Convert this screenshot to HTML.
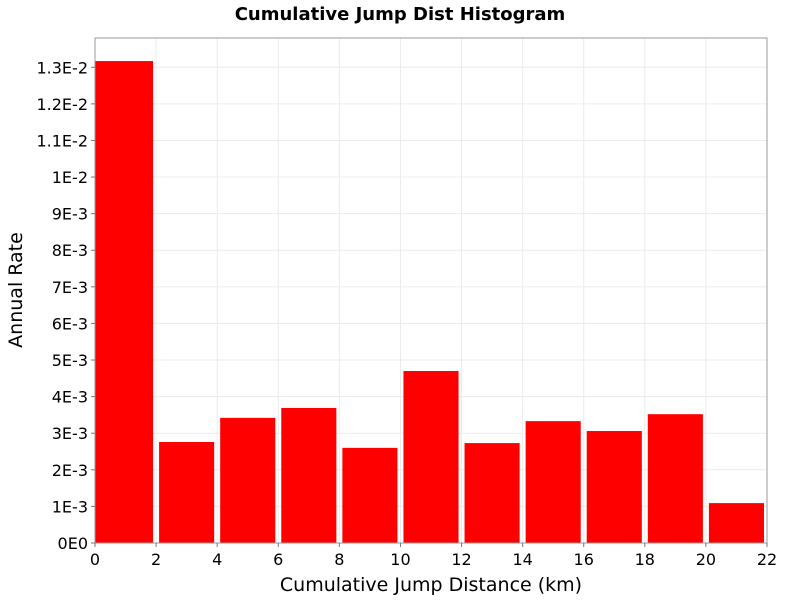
<!DOCTYPE html>
<html><head><meta charset="utf-8"><style>
body{margin:0;background:#fff;}
svg{display:block;font-family:"DejaVu Sans","Liberation Sans",sans-serif;}
</style></head><body>
<svg id="chart" width="800" height="600">
<text x="400" y="20" text-anchor="middle" font-size="18" font-weight="bold">Cumulative Jump Dist Histogram</text>
<rect x="95" y="38" width="672" height="505" fill="#fff"/>
<g id="grid"></g><g id="bars"></g>
<rect x="95" y="38" width="672" height="505" fill="none" stroke="#999"/>
<g id="axes"></g>
<text x="431" y="591" text-anchor="middle" font-size="19">Cumulative Jump Distance (km)</text>
<text transform="translate(22,290) rotate(-90)" text-anchor="middle" font-size="19">Annual Rate</text>
</svg>
<script>
const binStarts=[0,2,4,6,8,10,12,14,16,18,20];
const rates=[0.01317,0.00276,0.00342,0.00369,0.0026,0.0047,0.00273,0.00333,0.00306,0.00352,0.00109];
const xTicks=[0,2,4,6,8,10,12,14,16,18,20,22];
const yTicks=[0,0.001,0.002,0.003,0.004,0.005,0.006,0.007,0.008,0.009,0.01,0.011,0.012,0.013];
const yLabels=["0E0","1E-3","2E-3","3E-3","4E-3","5E-3","6E-3","7E-3","8E-3","9E-3","1E-2","1.1E-2","1.2E-2","1.3E-2"];
const binWidth=2;
const X0=95,X1=767,Y0=543,Y1=38,XMAX=22,YMAX=0.0138;
const xs=v=>X0+v/XMAX*(X1-X0), ys=v=>Y0-v/YMAX*(Y0-Y1);
const NS="http://www.w3.org/2000/svg";
function mk(t,a,p){const e=document.createElementNS(NS,t);for(const k in a)e.setAttribute(k,a[k]);p.appendChild(e);return e;}
const grid=document.getElementById('grid'),bars=document.getElementById('bars'),axes=document.getElementById('axes');
xTicks.forEach(t=>{
 const l=mk('line',{x1:xs(t),x2:xs(t),y1:Y1,y2:Y0,stroke:'#ececec'},grid);
 
 
 const tk=mk('line',{x1:xs(t),x2:xs(t),y1:Y0,y2:Y0+4,stroke:'#777'},axes);
 
 
 const tx=mk('text',{x:xs(t),y:Y0+22,'text-anchor':'middle','font-size':16},axes);
 tx.textContent=t;
 
 
});
yTicks.forEach((t,i)=>{
 const l=mk('line',{x1:X0,x2:X1,y1:ys(t),y2:ys(t),stroke:'#ececec'},grid);
 
 
 const tk=mk('line',{x1:X0-4,x2:X0,y1:ys(t),y2:ys(t),stroke:'#777'},axes);
 
 
 const tx=mk('text',{x:X0-7,y:ys(t)+6,'text-anchor':'end','font-size':16},axes);
 tx.textContent=yLabels[i];
 
 
});
binStarts.forEach((b,i)=>{
 let l=xs(b)+3,r=xs(b+binWidth)-3;
 if(b===0)l=X0;
 const rc=mk('rect',{x:l,y:ys(rates[i]),width:r-l,height:Y0-ys(rates[i]),fill:'#ff0000'},bars);
 
 
});
</script>
</body></html>
